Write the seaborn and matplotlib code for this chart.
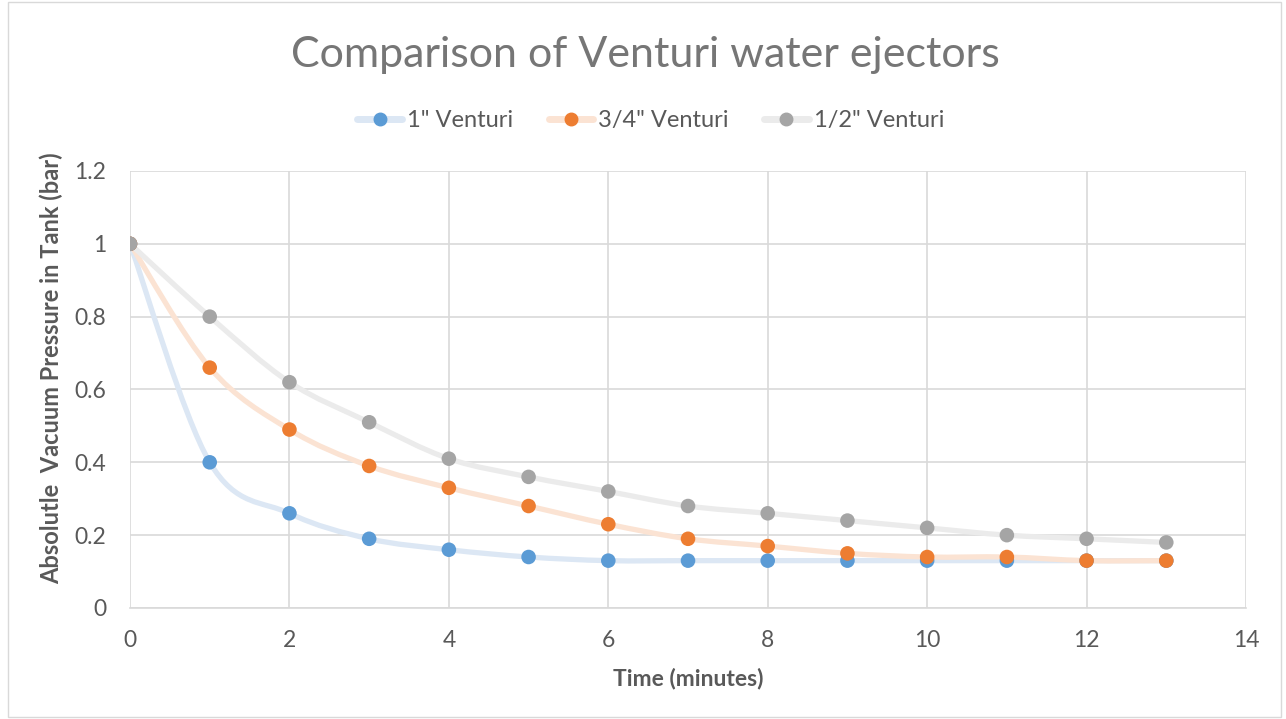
import numpy as np
import pandas as pd
import matplotlib
matplotlib.use("Agg")
import matplotlib.pyplot as plt
from matplotlib.path import Path
from matplotlib.patches import PathPatch
from matplotlib.lines import Line2D
import seaborn as sns

# ---- data ----
time_min = [0, 1, 2, 3, 4, 5, 6, 7, 8, 9, 10, 11, 12, 13]
venturi_1 = [1.00, 0.40, 0.26, 0.19, 0.16, 0.14, 0.13, 0.13, 0.13, 0.13, 0.13, 0.13, 0.13, 0.13]
venturi_3_4 = [1.00, 0.66, 0.49, 0.39, 0.33, 0.28, 0.23, 0.19, 0.17, 0.15, 0.14, 0.14, 0.13, 0.13]
venturi_1_2 = [1.00, 0.80, 0.62, 0.51, 0.41, 0.36, 0.32, 0.28, 0.26, 0.24, 0.22, 0.20, 0.19, 0.18]
series_names = ['1" Venturi', '3/4" Venturi', '1/2" Venturi']
x_ticks = [0, 2, 4, 6, 8, 10, 12, 14]
y_ticks = [0, 0.2, 0.4, 0.6, 0.8, 1.0, 1.2]
y_tick_labels = ["0", "0.2", "0.4", "0.6", "0.8", "1", "1.2"]

marker_colors = ["#5B9BD5", "#ED7D31", "#A5A5A5"]
line_colors = ["#DCE7F4", "#FBE3D3", "#EBEBEB"]

df = pd.DataFrame({
    "time": time_min * 3,
    "value": venturi_1 + venturi_3_4 + venturi_1_2,
    "series": sum([[n] * len(time_min) for n in series_names], []),
})

sns.set_theme(style="white")
plt.rcParams["font.family"] = ["Lato", "DejaVu Sans"]

fig = plt.figure(figsize=(12.86, 7.19), dpi=100)
fig.patch.set_facecolor("white")
ax = fig.add_axes([0.1011, 0.1544, 0.8678, 0.6078])
ax.set_facecolor("white")


def smooth_path(xs, ys):
    pts = np.column_stack([xs, ys]).astype(float)
    n = len(pts)
    verts = [pts[0]]
    codes = [Path.MOVETO]
    for i in range(n - 1):
        p0 = pts[i - 1] if i > 0 else pts[i]
        p1 = pts[i]
        p2 = pts[i + 1]
        p3 = pts[i + 2] if i + 2 < n else pts[i + 1]
        c1 = p1 + (p2 - p0) / 6.0
        c2 = p2 - (p3 - p1) / 6.0
        verts += [c1, c2, p2]
        codes += [Path.CURVE4] * 3
    return Path(verts, codes)


for name, lc in zip(series_names, line_colors):
    sub = df[df["series"] == name]
    patch = PathPatch(smooth_path(sub["time"].values, sub["value"].values),
                      facecolor="none", edgecolor=lc, lw=3.8, zorder=2,
                      capstyle="round", joinstyle="round")
    ax.add_patch(patch)

sns.scatterplot(data=df, x="time", y="value", hue="series", palette=marker_colors,
                hue_order=series_names, s=110, edgecolor="none", ax=ax,
                legend=False, zorder=3)

ax.set_xlim(0, 14)
ax.set_ylim(0, 1.2)
ax.set_xticks(x_ticks)
ax.set_yticks(y_ticks)
ax.set_yticklabels(y_tick_labels)
ax.grid(True, color="#D9D9D9", lw=1.2)
ax.set_axisbelow(True)
for s in ["top", "right", "left"]:
    ax.spines[s].set_visible(False)
ax.spines["bottom"].set_color("#D9D9D9")
ax.spines["bottom"].set_linewidth(1.2)
ax.tick_params(axis="x", length=0, labelsize=16.5, labelcolor="#595959", pad=16)
ax.tick_params(axis="y", length=0, labelsize=16.5, labelcolor="#595959", pad=17)

ax.set_xlabel("Time (minutes)", fontsize=16.5, fontweight="bold", color="#595959", labelpad=12)
ax.set_ylabel("Absolutle  Vacuum Pressure in Tank (bar)", fontsize=17, fontweight="bold",
              color="#595959")
ax.yaxis.set_label_coords(-0.060, 0.549)

fig.text(0.5016, 0.923, "Comparison of Venturi water ejectors", ha="center", va="center",
         fontsize=31, color="#767676")

handles = [Line2D([0], [0], color=lc, lw=5, marker="o", markersize=9,
                  markerfacecolor=mc, markeredgecolor=mc)
           for lc, mc in zip(line_colors, marker_colors)]
leg = fig.legend(handles, series_names, loc="center", bbox_to_anchor=(0.506, 0.832),
                 ncol=3, frameon=False, fontsize=17, handlelength=1.9,
                 columnspacing=1.5, handletextpad=0.2)
for t in leg.get_texts():
    t.set_color("#595959")

fig.add_artist(plt.Rectangle((0.006, 0.003), 0.99, 0.994, transform=fig.transFigure,
                             fill=False, edgecolor="#D9D9D9", lw=1))

fig.savefig("out.png", dpi=100)
